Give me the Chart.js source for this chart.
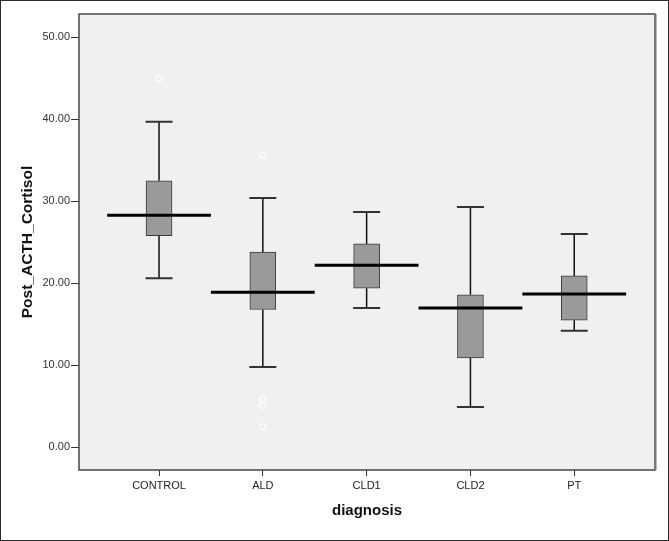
<!DOCTYPE html>
<html>
<head>
<meta charset="utf-8">
<title>Post_ACTH_Cortisol by diagnosis</title>
<script src="https://cdn.jsdelivr.net/npm/chart.js@4"></script>
<style>
  html, body { margin: 0; padding: 0; background: #fff; }
  #wrap { width: 669px; height: 541px; }
</style>
</head>
<body>
<div id="wrap"><canvas id="boxChart" width="669" height="541"></canvas></div>
<script>
// values
var categories = ["CONTROL", "ALD", "CLD1", "CLD2", "PT"];
var whiskerLow = [20.6, 9.8, 17.0, 4.9, 14.2];
var q1 = [25.8, 16.8, 19.4, 10.9, 15.5];
var median = [28.3, 18.9, 22.2, 17.0, 18.7];
var q3 = [32.5, 23.8, 24.8, 18.6, 20.9];
var whiskerHigh = [39.7, 30.4, 28.7, 29.3, 26.0];
var outlierCat = [1, 2, 2, 2, 2];
var outlierVal = [45.0, 35.6, 5.9, 5.1, 2.5];
var yTicks = [0, 10, 20, 30, 40, 50];

var font = "'Liberation Sans', Arial, sans-serif";
var capHalf = 0.13;   // half width of whisker caps, in category units
var medHalf = 0.5;    // half width of median line

// line pieces separated by gaps
function pieces(list) {
  var out = [];
  list.forEach(function(p) {
    out.push({ x: p[0], y: p[1] });
    out.push({ x: p[2], y: p[3] });
    out.push({ x: p[2], y: null });
  });
  return out;
}

var stems = [], caps = [], meds = [];
categories.forEach(function(c, i) {
  var x = i + 1;
  stems.push([x, q3[i], x, whiskerHigh[i]]);
  stems.push([x, whiskerLow[i], x, q1[i]]);
  caps.push([x - capHalf, whiskerHigh[i], x + capHalf, whiskerHigh[i]]);
  caps.push([x - capHalf, whiskerLow[i], x + capHalf, whiskerLow[i]]);
  meds.push([x - medHalf, median[i], x + medHalf, median[i]]);
});

var boxes = categories.map(function(c, i) {
  return { x: i + 1, y: [q1[i], q3[i]] };
});
var outliers = outlierVal.map(function(v, i) {
  return { x: outlierCat[i], y: v };
});

var framePlugin = {
  id: "frame",
  beforeDraw: function(chart) {
    var ctx = chart.ctx, a = chart.chartArea;
    ctx.save();
    ctx.fillStyle = "#ffffff";
    ctx.fillRect(0, 0, chart.width, chart.height);
    ctx.fillStyle = "#f0f0f0";
    ctx.fillRect(a.left, a.top, a.right - a.left, a.bottom - a.top);
    ctx.restore();
  },
  afterDraw: function(chart) {
    var ctx = chart.ctx, a = chart.chartArea;
    ctx.save();
    ctx.strokeStyle = "#474747";
    ctx.lineWidth = 1.5;
    ctx.strokeRect(a.left, a.top, a.right - a.left, a.bottom - a.top);
    ctx.strokeStyle = "#7a7a7a";
    ctx.lineWidth = 2;
    ctx.beginPath();
    ctx.moveTo(a.right + 0.5, a.top);
    ctx.lineTo(a.right + 0.5, a.bottom);
    ctx.stroke();
    ctx.strokeStyle = "#2b2b2b";
    ctx.lineWidth = 1;
    ctx.strokeRect(0.5, 0.5, chart.width - 1, chart.height - 1);
    ctx.restore();
  }
};

new Chart(document.getElementById("boxChart"), {
  type: "bar",
  data: {
    datasets: [
      {
        type: "line",
        data: pieces(stems),
        borderColor: "#111",
        borderWidth: 1.5,
        pointRadius: 0,
        spanGaps: false,
        order: 4
      },
      {
        type: "line",
        data: pieces(caps),
        borderColor: "#333",
        borderWidth: 2,
        pointRadius: 0,
        spanGaps: false,
        order: 3
      },
      {
        type: "bar",
        data: boxes,
        backgroundColor: "#9a9a9a",
        borderColor: "#3a3a3a",
        borderWidth: 1,
        borderSkipped: false,
        barThickness: 26,
        order: 2
      },
      {
        type: "line",
        data: pieces(meds),
        borderColor: "#000",
        borderWidth: 3,
        pointRadius: 0,
        spanGaps: false,
        order: 1
      },
      {
        type: "scatter",
        data: outliers,
        pointRadius: 3,
        pointBorderWidth: 1.5,
        pointBorderColor: "#fcfcfc",
        pointBackgroundColor: "rgba(0,0,0,0)",
        order: 0
      }
    ]
  },
  options: {
    responsive: false,
    animation: false,
    layout: { padding: { top: 14, right: 14, left: 0, bottom: 0 } },
    plugins: {
      legend: { display: false },
      tooltip: { enabled: false }
    },
    scales: {
      x: {
        type: "linear",
        min: 0.229,
        max: 5.778,
        offset: false,
        grid: { offset: false, drawOnChartArea: false, drawTicks: true, tickLength: 6, color: "#333" },
        border: { display: false },
        afterBuildTicks: function(scale) {
          scale.ticks = categories.map(function(c, i) { return { value: i + 1 }; });
        },
        afterFit: function(scale) { scale.height = 71; },
        ticks: {
          autoSkip: false,
          maxRotation: 0,
          padding: 3,
          color: "#222",
          font: { family: font, size: 11 },
          callback: function(v) { return categories[v - 1]; }
        },
        title: {
          display: true,
          text: "diagnosis",
          color: "#111",
          padding: { bottom: 21 },
          font: { family: font, size: 15, weight: "bold" }
        }
      },
      y: {
        min: -2.77,
        max: 52.84,
        grid: { drawOnChartArea: false, drawTicks: true, tickLength: 8, color: "#333" },
        border: { display: false },
        afterBuildTicks: function(scale) {
          scale.ticks = yTicks.map(function(v) { return { value: v }; });
        },
        afterFit: function(scale) { scale.width = 79; },
        ticks: {
          padding: 1,
          color: "#333",
          font: { family: font, size: 11 },
          callback: function(v) { return Number(v).toFixed(2); }
        },
        title: {
          display: true,
          text: "Post_ACTH_Cortisol",
          color: "#111",
          padding: { top: 18 },
          font: { family: font, size: 15.5, weight: "bold" }
        }
      }
    }
  },
  plugins: [framePlugin]
});
</script>
</body>
</html>
